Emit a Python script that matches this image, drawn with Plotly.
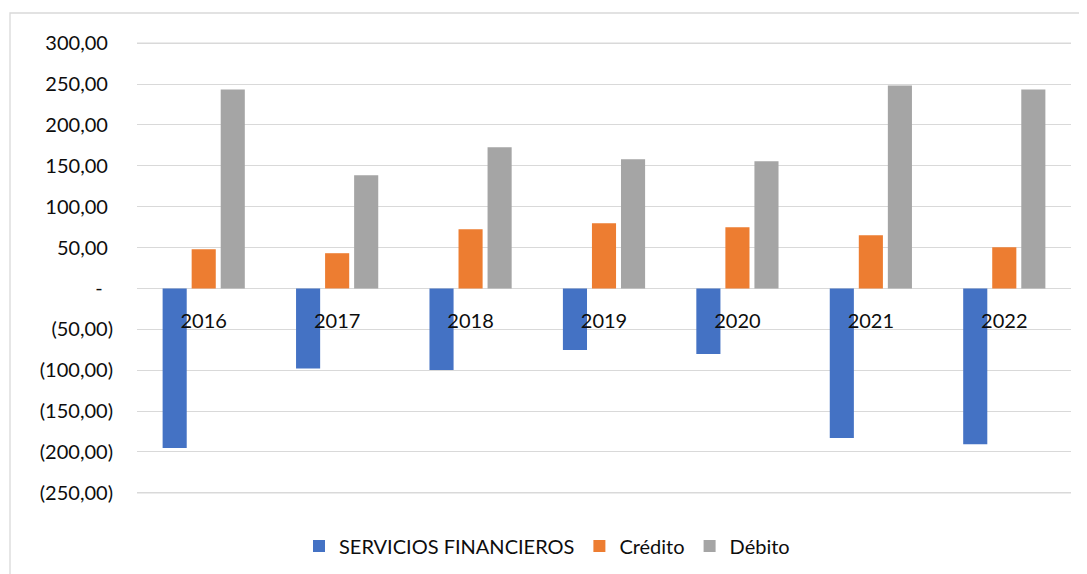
import plotly.graph_objects as go

years = ["2016", "2017", "2018", "2019", "2020", "2021", "2022"]
servicios = [-195.3, -97.9, -99.9, -75.4, -80.3, -183.1, -190.5]
credito = [48.0, 43.1, 72.5, 79.8, 74.9, 65.1, 50.5]
debito = [243.4, 138.4, 172.6, 157.9, 155.5, 248.3, 243.4]

series_names = ["SERVICIOS FINANCIEROS", "Crédito", "Débito"]
series_colors = ["#4472C4", "#ED7D31", "#A5A5A5"]

y_tickvals = [300, 250, 200, 150, 100, 50, 0, -50, -100, -150, -200, -250]
y_min, y_max = -250, 300


def fmt(v):
    if v > 0:
        return f"{v:,.2f}".replace(",", "X").replace(".", ",").replace("X", ".") + "\u00a0"
    if v < 0:
        return "(" + f"{-v:,.2f}".replace(",", "X").replace(".", ",").replace("X", ".") + ")"
    return "-\u00a0\u00a0"


y_ticktext = [fmt(v) for v in y_tickvals]

FONT = "Lato, 'Open Sans', sans-serif"
TXT = "#0d0d0d"
GRID = "#d9d9d9"
FS = 20

fig = go.Figure()
for name, vals, col in zip(series_names, [servicios, credito, debito], series_colors):
    fig.add_trace(go.Bar(x=years, y=vals, name=name, marker=dict(color=col, line=dict(width=0))))

OFF = 8  # browser body margin
W, H = 1087 - 2 * OFF, 574 - OFF
pad_units = 1.5
# page coordinates of the plot area: x 137..1071, y 42..494
L = 137 - OFF
R = W - (1071 - OFF)
T = 42 - OFF
B = H - (494 - OFF)
pw, ph = W - L - R, H - T - B
rng = [y_min - pad_units, y_max + pad_units]
span = rng[1] - rng[0]

edge_lines = [dict(type="line", xref="paper", yref="y", x0=0, x1=1, y0=v, y1=v,
                   line=dict(color=GRID, width=1.3), layer="below")
              for v in (y_min, y_max)]

fig.update_layout(
    width=W, height=H,
    margin=dict(l=L, r=R, t=T, b=B, pad=0, autoexpand=False),
    paper_bgcolor="white", plot_bgcolor="white",
    barmode="group", bargap=0.347, bargroupgap=0.17,
    font=dict(family=FONT, size=FS, color=TXT),
    showlegend=True,
    legend=dict(orientation="h", x=(547 - OFF - L) / pw, xanchor="center",
                y=(ph - (546 - OFF - T)) / ph,
                yanchor="middle", font=dict(family=FONT, size=FS, color=TXT),
                bgcolor="rgba(0,0,0,0)"),
    xaxis=dict(anchor="free", position=(0 - rng[0]) / span, showgrid=False, showline=False,
               zeroline=False, ticks="", ticklabelstandoff=19,
               tickfont=dict(family=FONT, size=FS, color=TXT)),
    yaxis=dict(range=rng, tickvals=y_tickvals, ticktext=y_ticktext,
               showgrid=True, gridcolor=GRID, gridwidth=1.3,
               zeroline=True, zerolinecolor=GRID, zerolinewidth=1.3,
               showline=False, ticks="", ticklabelstandoff=23,
               tickfont=dict(family=FONT, size=FS, color=TXT)),
    shapes=[dict(type="rect", xref="paper", yref="paper",
                 x0=(10 - OFF - L) / pw, x1=(W + 40 - L) / pw,
                 y0=(ph - (H + 40 - T)) / ph, y1=(ph - (13 - OFF - T)) / ph,
                 line=dict(color=GRID, width=1.3), fillcolor="rgba(0,0,0,0)", layer="below")]
           + edge_lines,
)

fig.write_html("out.html")
